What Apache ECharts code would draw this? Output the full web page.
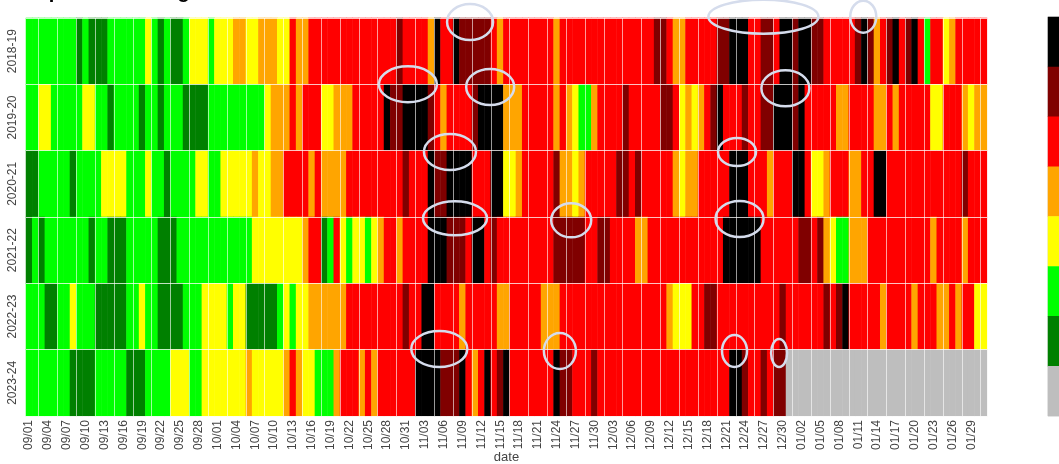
<!DOCTYPE html>
<html><head><meta charset="utf-8">
<script src="https://cdn.jsdelivr.net/npm/echarts@6/dist/echarts.min.js"></script>
<style>html,body{margin:0;padding:0;background:#fff}#c{width:1059px;height:464px}</style>
</head><body><div id="c"></div>
<script>
// seasons (rows, top to bottom)
const seasons = ['2018-19','2019-20','2020-21','2021-22','2022-23','2023-24'];
// month blocks for the date categories (Sep 1 .. Jan 31)
const monthBlocks = [['09',30],['10',31],['11',30],['12',31],['01',31]];
// daily level codes, groups of 10 days, from 09/01
// K=black M=dark red R=red O=orange Y=yellow G=green D=dark green X=no data
const codes2018_19 = "GGGGGGGGDG DDDGGGGGGY GDGDDGYYYG YYYOOYYOOO YYROORRRRR RRRRRRRRRM RRRROKRRKM MMMMRORRRR RRRRORRRRR RRRRRRRRRR MMROORRRRR MMKKKRRMMR KKMKKMMRRR RRMKMORMKR MKRGRRYORR RRR";
const codes2019_20 = "GGYYGGGGGY YGGDGGGGDG GDGGGDDDDG GGGGGGGGYO OORORRRYYO OORRRRRKMM KKKKMRORRR RMKKKKOOOR RRRROROYGG ORRRRMRRRR RMMRYOYORM KRRRMRRMMK KKMKRRRRRO ORRRROOROR RRRRYYRRRO YOO";
const codes2020_21 = "DDGGGGGDGG GGYYYYGGGY GGDGGGGYYG GYYYYYOYYO ORRRROROOO ORRRRRRRRR MRRRKMMKKK KRRRKKYYOR RRRRMOOYOR RRRRMMRMRR RRROYOORRR RRKKKRRROR RRKKRYYORR ROORRKKRRR RRRRRRRRRM RRR";
const codes2021_22 = "DGDGGGGGGG DGGDDDGGGG GDDDGGGGGG GGGGGGYYYY YYYYORRDGR YGYYGYORRO RRRRKKKMMM RKKRMRRRRR RRRRMMMMMR RMMRRRROOR RRRRRRRRRR RKKKKKKRRR RRRMMRMOYG GOOORRRRRR RRRRORRRRO RRR";
const codes2022_23 = "GGGDDGGYGG GDDDDDGGYG GDDDDGGGYY YYGYYDDDDD GYGYYOOOOO ORRRRRRRRR MRRKKRRRRO RRRRROORRR RROOORRRRR RRRRRRRRRR RROYYYRRMM RRRRRRRRRR MRRRRRRMRM KRRRRRORRR RORRROOROR RYY";
const codes2023_24 = "GGGGGGGDDD DGGGGGDDDG GGGYYYGGYY YYYYYOYYYY YOROYYGGGO RRRORORRRR RRKKKKMMMK RORKRMKRRR RRRRKMMRRR MRRRRRRRRR RRRRRRRRRR RRKKMRRMRM MXXXXXXXXX XXXXXXXXXX XXXXXXXXXX XXX";
const seasonCodes = [codes2018_19, codes2019_20, codes2020_21, codes2021_22, codes2022_23, codes2023_24];
// level order: value index 0..7
const levelKeys = ['X','D','G','Y','O','R','M','K'];
const levelColors = ['#bebebe','#008000','#00ff00','#ffff00','#ffa500','#ff0000','#800000','#000000'];

// annotation ellipses: centre in (day index, row index) units, radii in px
const notes = [
  [70.2,-0.44,23,18],[60.3,0.50,29,18],[73.4,0.54,24,18],[67.0,1.52,26,18],
  [67.8,2.52,32,17],[86.3,2.55,20,17],[65.3,4.49,28,18],[84.5,4.52,16,18],
  [116.9,-0.52,55,17],[132.8,-0.52,13,16],[120.4,0.56,24,18],[112.7,1.52,19,14],
  [113.1,2.53,24,18],[112.3,4.52,12.5,16],[119.4,4.55,8,14]
];

const dates = [];
monthBlocks.forEach(([m,n]) => { for (let d = 1; d <= n; d++) dates.push(m + '/' + String(d).padStart(2,'0')); });

const data = [];
seasonCodes.forEach((s, r) => {
  s.replace(/\s+/g,'').split('').forEach((c, d) => { data.push([d, r, levelKeys.indexOf(c)]); });
});
// colour key: one cell per level, black at top
const keyRows = levelKeys.slice().reverse();
const keyData = keyRows.map((k, i) => [0, i, levelKeys.indexOf(k)]);

const chart = echarts.init(document.getElementById('c'));
chart.setOption({
  animation: false,
  title: { text: 'Temperature rating', left: 4, top: -23, textStyle: { fontFamily: 'Liberation Sans', fontWeight: 'bold', fontSize: 20, color: '#000' } },
  grid: [
    { left: 26, top: 18, width: 961, height: 398, outerBoundsMode: 'none' },
    { left: 1048, top: 17, width: 30, height: 399, outerBoundsMode: 'none', show: true, borderColor: '#dddddd', borderWidth: 1 }
  ],
  xAxis: [{
    type: 'category', data: dates, z: 10, gridIndex: 0,
    name: 'date', nameLocation: 'middle', nameGap: 35, nameMoveOverlap: false,
    nameTextStyle: { fontFamily: 'Liberation Sans', fontSize: 13, color: '#444', verticalAlign: 'top' },
    axisLine: { show: false }, axisTick: { show: false },
    axisLabel: { interval: (i) => i % 3 === 0, rotate: 90, fontSize: 12, fontFamily: 'Liberation Sans', color: '#444', margin: 4 },
    splitLine: { show: true, interval: (i) => i % 3 === 2, lineStyle: { color: 'rgba(255,255,255,0.6)', width: 1 } }
  }, {
    type: 'category', data: [''], gridIndex: 1, show: false
  }],
  yAxis: [{
    type: 'category', data: seasons, inverse: true, z: 10, gridIndex: 0,
    axisLine: { show: false }, axisTick: { show: false },
    axisLabel: { rotate: 90, fontSize: 12, fontFamily: 'Liberation Sans', color: '#444', margin: 7 },
    splitLine: { show: true, lineStyle: { color: 'rgba(255,255,255,0.75)', width: 1 } }
  }, {
    type: 'category', data: keyRows, inverse: true, gridIndex: 1, show: false
  }],
  visualMap: {
    type: 'piecewise', show: false,
    pieces: levelColors.map((c, i) => ({ value: i, color: c })),
    seriesIndex: [0, 1]
  },
  series: [
    { type: 'heatmap', data: data, itemStyle: { borderWidth: 0 }, emphasis: { disabled: true } },
    { type: 'heatmap', xAxisIndex: 1, yAxisIndex: 1, data: keyData, itemStyle: { borderWidth: 0 }, emphasis: { disabled: true } }
  ]
});

const p0 = chart.convertToPixel({ gridIndex: 0 }, [dates[0], seasons[0]]);
const p1 = chart.convertToPixel({ gridIndex: 0 }, [dates[1], seasons[1]]);
const bx = p1[0] - p0[0], by = p1[1] - p0[1];
chart.setOption({
  graphic: notes.map(([dx, ry, rx, rY]) => ({
    type: 'ellipse', z: 100,
    shape: { cx: p0[0] + dx * bx, cy: p0[1] + ry * by, rx: rx, ry: rY },
    style: { fill: null, stroke: '#d5dcec', lineWidth: 2.5 }
  }))
});
</script></body></html>
